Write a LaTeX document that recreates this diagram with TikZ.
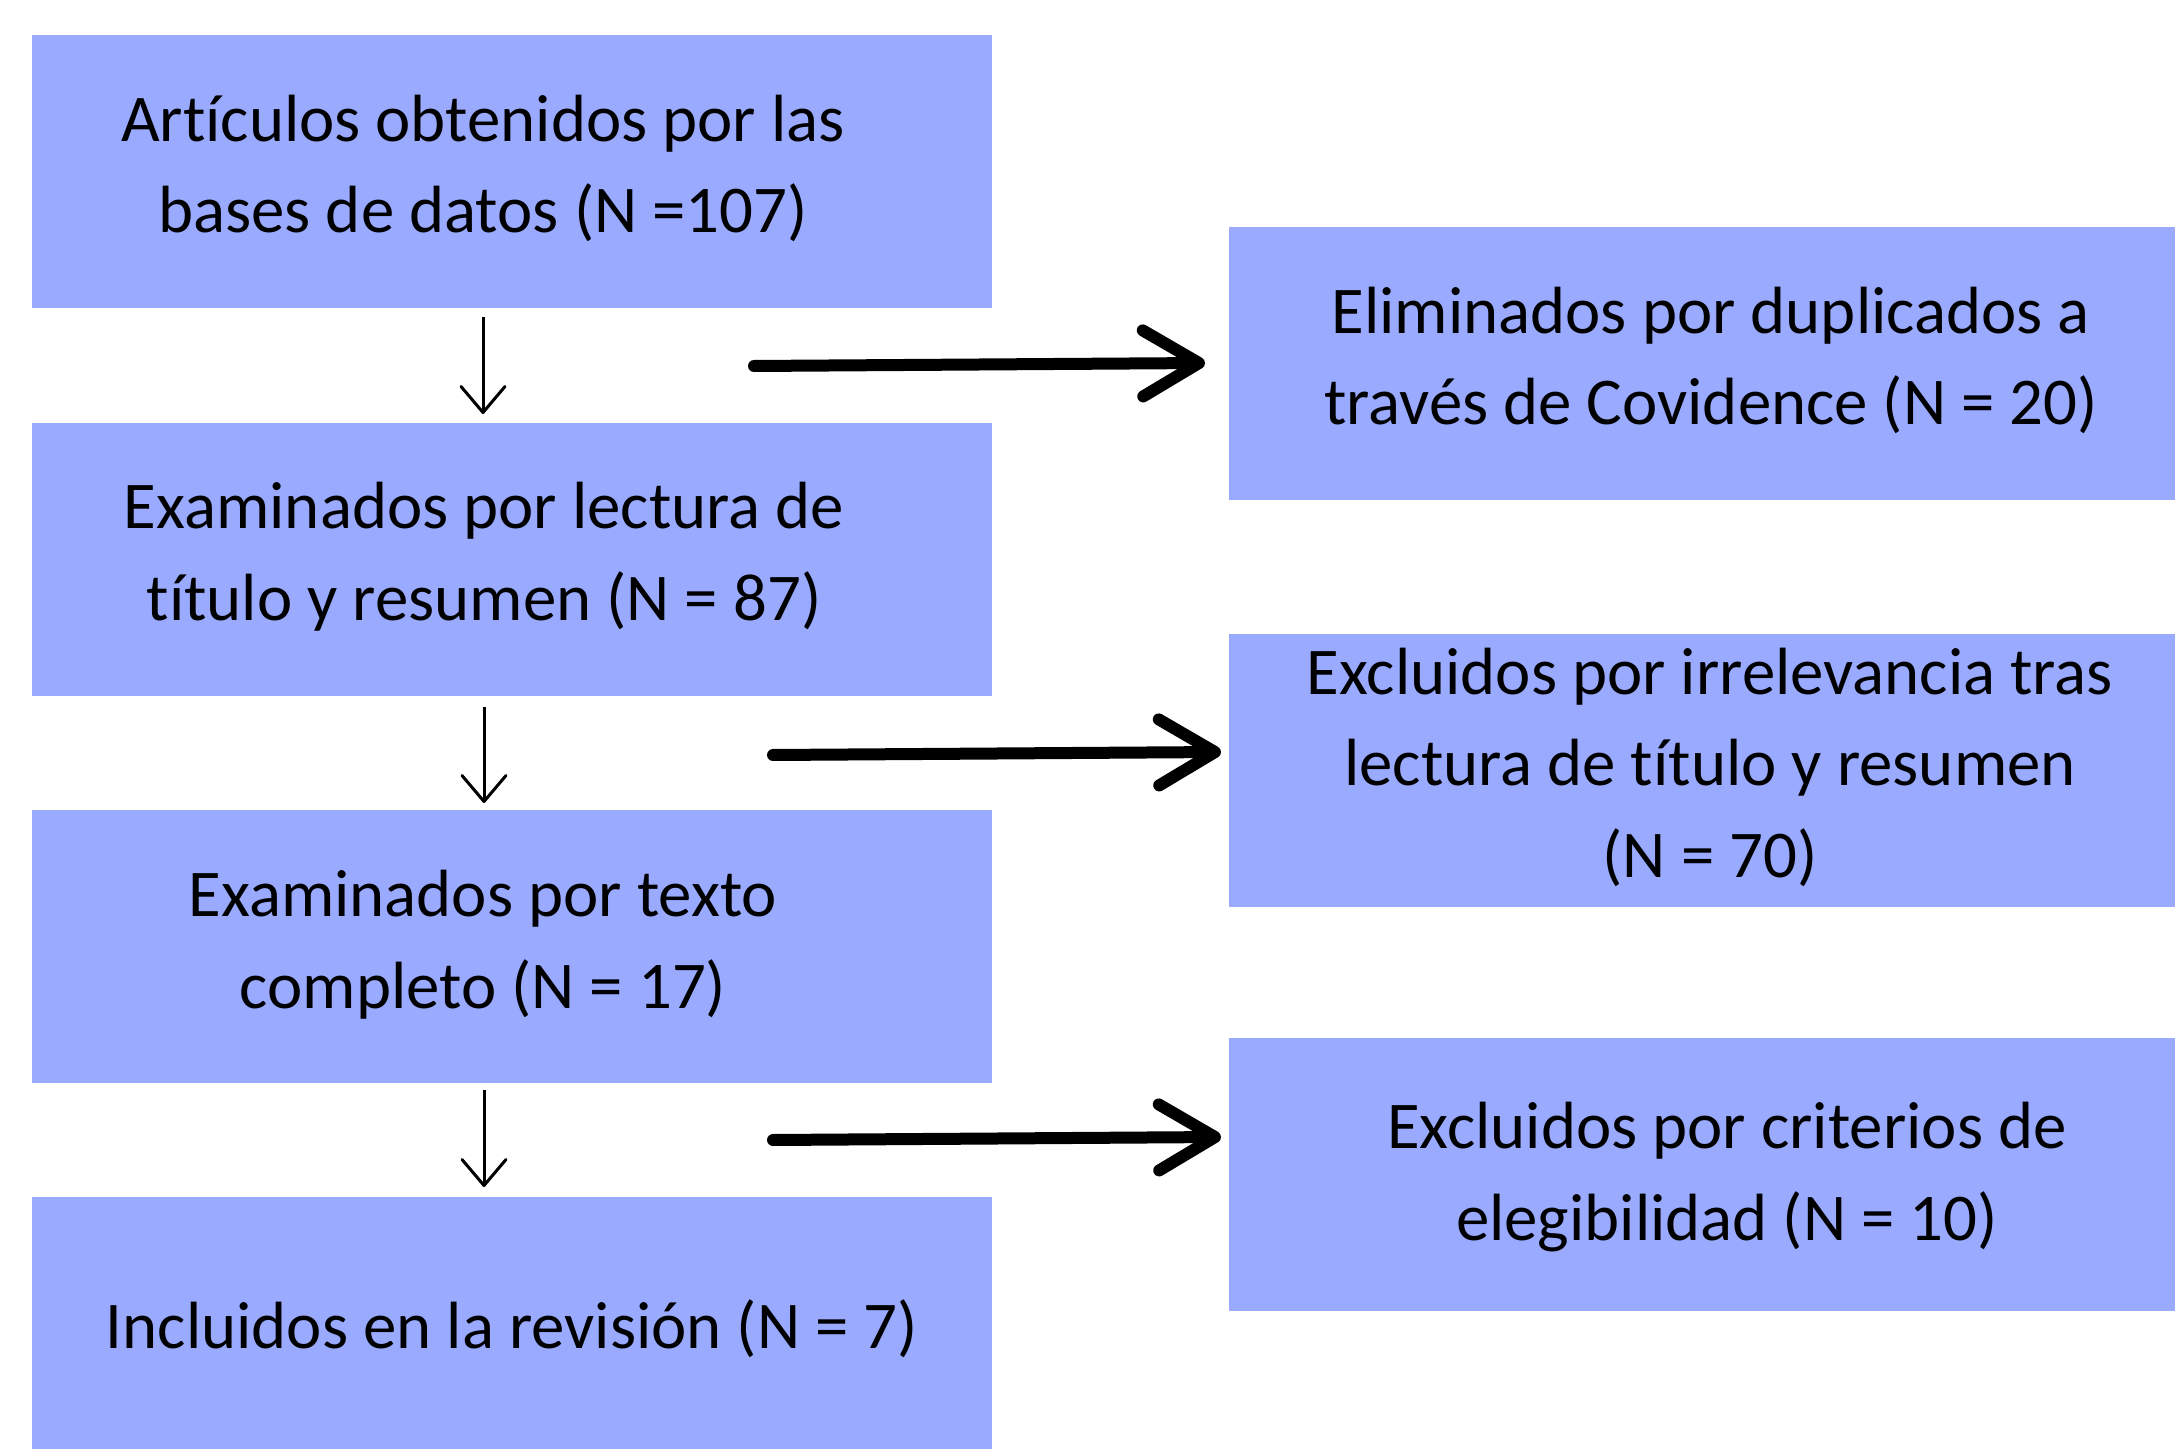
\documentclass[tikz,border=0pt]{standalone}
\usepackage{fontspec}
\setmainfont[Ligatures=NoCommon]{Carlito}
\usetikzlibrary{arrows.meta}
\definecolor{boxblue}{RGB}{153,170,255}
\tikzset{
  box/.style={fill=boxblue, draw=none, rectangle, inner sep=0pt, anchor=north west,
              minimum height=136.5pt},
  lbox/.style={box, minimum width=480pt},
  rbox/.style={box, minimum width=500pt},
  txt/.style={anchor=base, align=center, inner sep=0pt, text=black,
              font=\fontsize{33.4pt}{45.75pt}\selectfont},
  thin arrow/.style={draw=black, line width=1.5pt,
              -{Straight Barb[length=13pt,width=22pt,line cap=round,line join=round]}},
  bold arrow/.style={draw=black, line width=6pt, line cap=round,
              -{Straight Barb[length=28pt,width=33pt,line cap=round,line join=round]}},
}
\begin{document}
\begin{tikzpicture}[x=0.5pt,y=-0.5pt]
\useasboundingbox (0,0) rectangle (2175,1449);
\clip (0,0) rectangle (2175,1449);
% left column boxes
\node[lbox] (L1) at (32,35) {};
\node[lbox] (L2) at (32,423) {};
\node[lbox] (L3) at (32,810) {};
\node[lbox] (L4) at (32,1197) {};
% right column boxes
\node[rbox] (R1) at (1229,227) {};
\node[rbox] (R2) at (1229,634) {};
\node[rbox] (R3) at (1229,1038) {};
% texts (anchored at the baseline of the last line)
\node[txt] (L1t) at (483,233) {Artículos obtenidos por las\\bases de datos (N =107)};
\node[txt] (L2t) at (484,620) {Examinados por lectura de\\título y resumen (N = 87)};
\node[txt] (L3t) at (483,1008) {Examinados por texto\\completo (N = 17)};
\node[txt] (L4t) at (512,1348) {Incluidos en la revisión (N = 7)};
\node[txt] (R1t) at (1711,425) {Eliminados por duplicados a\\través de Covidence (N = 20)};
\node[txt] (R2t) at (1710,877) {Excluidos por irrelevancia tras\\lectura de título y resumen\\(N = 70)};
\node[txt] (R3t) at (1727,1240) {Excluidos por criterios de\\elegibilidad (N = 10)};
% connector ends
\coordinate (d1s) at (483,317);  \coordinate (d1e) at (483,414);
\coordinate (d2s) at (484,707);  \coordinate (d2e) at (484,803);
\coordinate (d3s) at (484,1090); \coordinate (d3e) at (484,1187);
\coordinate (h1s) at (754,366);  \coordinate (h1e) at (1205,363);
\coordinate (h2s) at (773,755);  \coordinate (h2e) at (1221,752);
\coordinate (h3s) at (773,1140); \coordinate (h3e) at (1221,1137);
% connectors
\draw[thin arrow] (d1s) -- (d1e);
\draw[thin arrow] (d2s) -- (d2e);
\draw[thin arrow] (d3s) -- (d3e);
\draw[bold arrow] (h1s) -- (h1e);
\draw[bold arrow] (h2s) -- (h2e);
\draw[bold arrow] (h3s) -- (h3e);
\end{tikzpicture}
\end{document}
